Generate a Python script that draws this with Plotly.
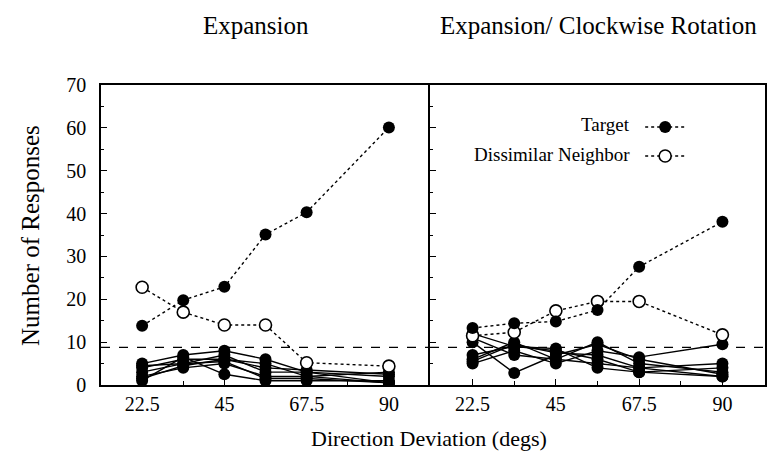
import plotly.graph_objects as go

# ---------------- data ----------------
x_dev = [22.5, 33.75, 45, 56.25, 67.5, 90]

# Left panel: Expansion
exp_target = [13.8, 19.8, 22.9, 35.1, 40.3, 60.1]
exp_dissim = [22.8, 17.0, 14.0, 14.0, 5.2, 4.4]
exp_others = [
    [5.0, 7.0, 8.0, 6.0, 3.0, 0.5],
    [4.0, 6.0, 6.0, 5.0, 2.0, 0.5],
    [3.0, 5.0, 7.0, 3.0, 3.0, 2.0],
    [2.0, 4.0, 5.0, 2.0, 2.0, 3.0],
    [1.0, 6.5, 2.5, 1.0, 1.0, 1.0],
    [1.5, 4.5, 6.0, 4.0, 3.5, 2.5],
    [4.5, 5.0, 5.5, 1.5, 1.5, 0.5],
]

# Right panel: Expansion / Clockwise Rotation
rot_target = [13.3, 14.4, 14.8, 17.5, 27.6, 38.1]
rot_dissim = [11.5, 12.3, 17.3, 19.5, 19.5, 11.7]
rot_others = [
    [12.0, 9.0, 8.0, 6.0, 3.0, 2.0],
    [10.0, 2.8, 7.0, 9.5, 6.0, 2.5],
    [6.0, 10.0, 6.0, 5.0, 4.0, 5.0],
    [5.0, 8.0, 5.0, 8.0, 6.5, 9.5],
    [7.0, 9.0, 8.5, 4.0, 3.0, 4.0],
    [11.0, 7.0, 6.0, 10.0, 5.0, 3.0],
    [5.5, 9.5, 7.5, 7.0, 4.0, 2.0],
]

chance_level = 8.8

panel_titles = ["Expansion", "Expansion/ Clockwise Rotation"]
legend_labels = ["Target", "Dissimilar Neighbor"]
x_tickvals = [22.5, 45, 67.5, 90]
x_ticktext = ["22.5", "45", "67.5", "90"]
y_tickvals = [0, 10, 20, 30, 40, 50, 60, 70]

# ---------------- figure ----------------
FONT = "Liberation Serif, Times New Roman, Times, serif"
fig = go.Figure()

panels = [
    ("x", "y", exp_target, exp_dissim, exp_others),
    ("x2", "y2", rot_target, rot_dissim, rot_others),
]

for pi, (xa, ya, tgt, dis, others) in enumerate(panels):
    for row in others:
        fig.add_trace(go.Scatter(
            x=x_dev, y=row, xaxis=xa, yaxis=ya, mode="lines+markers",
            line=dict(color="black", width=1.4),
            marker=dict(symbol="circle", size=12, color="black"),
            showlegend=False, hoverinfo="skip"))
    fig.add_trace(go.Scatter(
        x=x_dev, y=dis, xaxis=xa, yaxis=ya, mode="lines+markers",
        name=" ",
        line=dict(color="black", width=1.4, dash="dot"),
        marker=dict(symbol="circle", size=12, color="white",
                    line=dict(color="black", width=1.6)),
        showlegend=(pi == 1), legendrank=2))
    fig.add_trace(go.Scatter(
        x=x_dev, y=tgt, xaxis=xa, yaxis=ya, mode="lines+markers",
        name=" ",
        line=dict(color="black", width=1.4, dash="dot"),
        marker=dict(symbol="circle", size=12, color="black"),
        showlegend=(pi == 1), legendrank=1))
    # chance level dashed line
    fig.add_shape(type="line", xref=f"{xa} domain", yref=ya,
                  x0=0, x1=1, y0=chance_level, y1=chance_level,
                  line=dict(color="black", width=1.3, dash="dash"))

axis_common = dict(showline=True, linecolor="black", linewidth=1.5,
                   ticks="inside", ticklen=6, tickcolor="black",
                   showgrid=False, zeroline=False,
                   tickfont=dict(family=FONT, size=20, color="black"))

fig.update_layout(
    width=767, height=452,
    margin=dict(l=101, r=0, t=85, b=67),
    paper_bgcolor="white", plot_bgcolor="white",
    font=dict(family=FONT, color="black"),
    xaxis=dict(domain=[0, 0.4955], range=[11.25, 101.25], mirror=True,
               tickvals=x_tickvals, ticktext=x_ticktext,
               minor=dict(tickvals=[33.75, 56.25, 78.75], ticks="inside",
                          ticklen=4, tickcolor="black"),
               **axis_common),
    xaxis2=dict(domain=[0.4955, 1], range=[11.0, 101.5], anchor="y2", mirror=True,
                tickvals=x_tickvals, ticktext=x_ticktext,
                minor=dict(tickvals=[33.75, 56.25, 78.75], ticks="inside",
                           ticklen=4, tickcolor="black"),
                **axis_common),
    yaxis=dict(range=[0, 70], tickvals=y_tickvals, mirror=False,
               ticklabelstandoff=9,
               minor=dict(dtick=5, ticks="inside", ticklen=3, tickcolor="black"),
               **axis_common),
    yaxis2=dict(range=[0, 70], tickvals=y_tickvals, anchor="x2", mirror=True,
                showticklabels=False,
                minor=dict(dtick=5, ticks="inside", ticklen=3, tickcolor="black"),
                **axis_common),
    legend=dict(x=0.812, y=0.925, xanchor="left", yanchor="top",
                bgcolor="rgba(0,0,0,0)", borderwidth=0,
                font=dict(family=FONT, size=20, color="black"),
                itemwidth=40, tracegroupgap=0),
    showlegend=True,
)

# legend texts (placed to the left of the legend keys, as in the original)
for lbl, ly in zip(legend_labels, [0.867, 0.767]):
    fig.add_annotation(text=lbl, xref="paper", yref="paper", x=0.80, y=ly,
                       showarrow=False, xanchor="right", yanchor="middle",
                       font=dict(family=FONT, size=19, color="black"))

# panel titles
for cx, t in zip([0.2335, 0.749], panel_titles):
    fig.add_annotation(text=t, xref="paper", yref="paper", x=cx, y=1.2,
                       showarrow=False, xanchor="center", yanchor="middle",
                       font=dict(family=FONT, size=25, color="black"))

fig.add_annotation(text="Direction Deviation (degs)", xref="paper", yref="paper",
                   x=0.494, y=-0.177, showarrow=False, xanchor="center",
                   yanchor="middle", font=dict(family=FONT, size=22, color="black"))
fig.add_annotation(text="Number of Responses", xref="paper", yref="paper",
                   x=-0.107, y=0.5, showarrow=False, textangle=-90,
                   xanchor="center", yanchor="middle",
                   font=dict(family=FONT, size=25, color="black"))

fig.write_html("out.html", config={"displayModeBar": False},
               post_script="document.body.style.margin='0';document.body.style.padding='0';")
